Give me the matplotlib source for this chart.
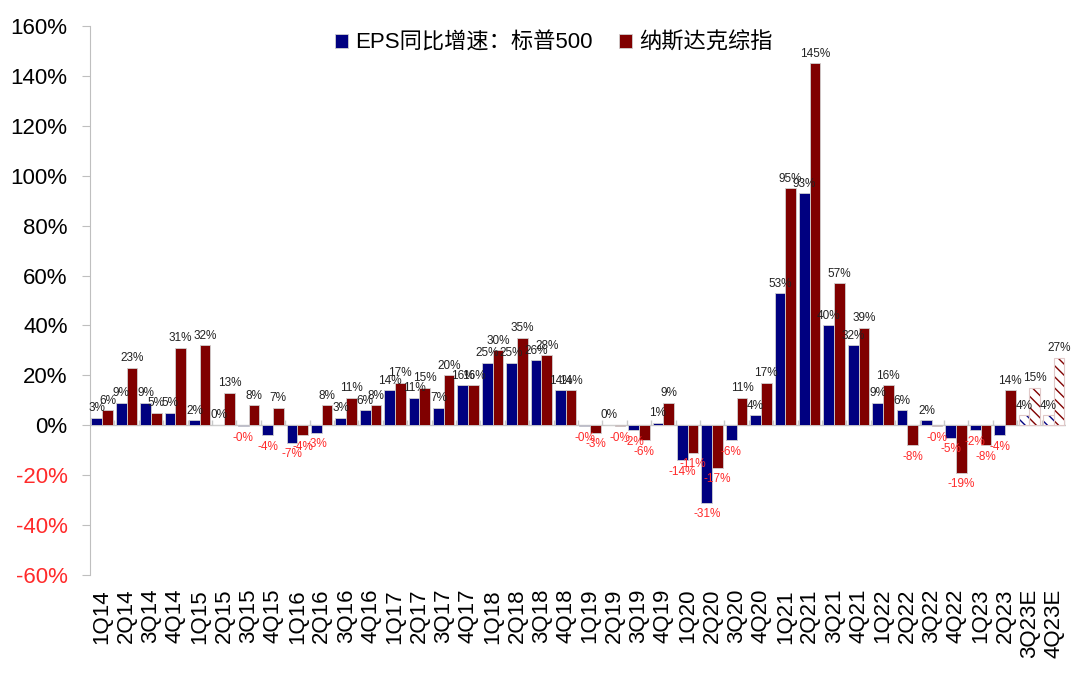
import matplotlib.pyplot as plt
import numpy as np

quarters = ['1Q14', '2Q14', '3Q14', '4Q14', '1Q15', '2Q15', '3Q15', '4Q15',
            '1Q16', '2Q16', '3Q16', '4Q16', '1Q17', '2Q17', '3Q17', '4Q17',
            '1Q18', '2Q18', '3Q18', '4Q18', '1Q19', '2Q19', '3Q19', '4Q19',
            '1Q20', '2Q20', '3Q20', '4Q20', '1Q21', '2Q21', '3Q21', '4Q21',
            '1Q22', '2Q22', '3Q22', '4Q22', '1Q23', '2Q23', '3Q23E', '4Q23E']

# EPS yoy growth, %
sp500 = [3, 9, 9, 5, 2, 0.2, -0.4, -4,
         -7, -3, 3, 6, 14, 11, 7, 16,
         25, 25, 26, 14, -0.4, 0.2, -2, 1,
         -14, -31, -6, 4, 53, 93, 40, 32,
         9, 6, 2, -5, -2, -4, 4, 4]
nasdaq = [6, 23, 5, 31, 32, 13, 8, 7,
          -4, 8, 11, 8, 17, 15, 20, 16,
          30, 35, 28, 14, -3, -0.4, -6, 9,
          -11, -17, 11, 17, 95, 145, 57, 39,
          16, -8, -0.4, -19, -8, 14, 15, 27]
n_forecast = 2  # last two quarters are estimates

plt.rcParams['font.family'] = ['Liberation Sans', 'Noto Sans CJK SC', 'DejaVu Sans']
plt.rcParams['hatch.linewidth'] = 1.0

fig = plt.figure(figsize=(10.8, 6.74), dpi=100)
ax = fig.add_axes([0.0833, 0.1469, 0.9037, 0.8145])

x = np.arange(len(quarters))
w = 0.44
navy = '#000080'
maroon = '#800000'
n = len(quarters)
actual = n - n_forecast

b1 = ax.bar(x[:actual] - w / 2, sp500[:actual], w, color=navy, edgecolor='#d0d0d0', lw=0.6,
            label='EPS同比增速：标普500')
b2 = ax.bar(x[:actual] + w / 2, nasdaq[:actual], w, color=maroon, edgecolor='#d0d0d0', lw=0.6,
            label='纳斯达克综指')
b3 = ax.bar(x[actual:] - w / 2, sp500[actual:], w, color='white', edgecolor=navy, lw=0,
            hatch='\\\\\\')
b4 = ax.bar(x[actual:] + w / 2, nasdaq[actual:], w, color='white', edgecolor=maroon, lw=0,
            hatch='\\\\\\')
for bars in (b3, b4):
    for p in bars:
        ax.add_patch(plt.Rectangle(p.get_xy(), p.get_width(), p.get_height(),
                                   fill=False, edgecolor='#e0c8c8', lw=0.8))

# value labels
for xs, vals in ((x - w / 2, sp500), (x + w / 2, nasdaq)):
    for xi, v in zip(xs, vals):
        txt = f'{v:.0f}%'
        if v >= 0:
            ax.annotate(txt, (xi, v), xytext=(0, 2.5), textcoords='offset points',
                        ha='center', va='bottom', fontsize=8.5, color='#222222')
        else:
            ax.annotate(txt, (xi, v), xytext=(0, -4), textcoords='offset points',
                        ha='center', va='top', fontsize=8.5, color='#ff2a2a')

# zero axis with small category ticks
ax.axhline(0, color='#c8c8c8', lw=1, zorder=0.5)
ax.vlines(np.arange(n + 1) - 0.5, 0, 2, color='#c8c8c8', lw=1, zorder=0.5)

ax.set_xlim(-0.5, n - 0.5)
ax.set_ylim(-60, 160)
yt = np.arange(-60, 161, 20)
ax.set_yticks(yt)
ax.set_yticklabels([f'{t}%' for t in yt], fontsize=16)
for lab, t in zip(ax.get_yticklabels(), yt):
    if t < 0:
        lab.set_color('#ff2a2a')
ax.tick_params(axis='y', direction='out', length=6, color='#bfbfbf', pad=10)

ax.set_xticks(x)
ax.set_xticklabels(quarters, rotation=90, fontsize=16)
ax.tick_params(axis='x', length=0, pad=10)

for s in ('top', 'right', 'bottom'):
    ax.spines[s].set_visible(False)
ax.spines['left'].set_color('#bfbfbf')

ax.legend(handles=[b1, b2], loc='upper center', bbox_to_anchor=(0.475, 1.025), ncol=2,
          frameon=False, fontsize=16, handlelength=0.6, handleheight=0.6,
          handletextpad=0.3, columnspacing=1.2)

fig.savefig('out.png', dpi=100)
